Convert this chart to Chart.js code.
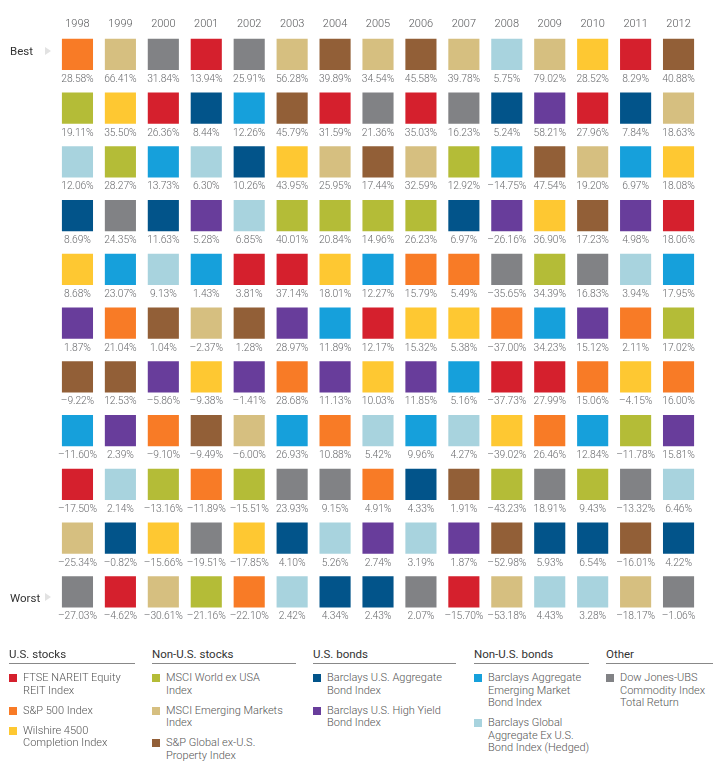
<!DOCTYPE html>
<html>
<head>
<meta charset="utf-8">
<script src="https://cdn.jsdelivr.net/npm/chart.js@4"></script>
<style>
  body { margin: 0; background: #fff; font-family: Roboto, "Liberation Sans", sans-serif; }
  #page { position: relative; width: 722px; height: 768px; overflow: hidden; }
  #wrap { position: absolute; left: 0; top: 0; width: 722px; height: 640px; }
  .side { position: absolute; left: 10px; font-size: 11.5px; color: #333; line-height: 14px; }
  .arrow { position: absolute; left: 45px; width: 0; height: 0;
           border-top: 4.5px solid transparent; border-bottom: 4.5px solid transparent; border-left: 6px solid #e2e2e2; }
  .group { position: absolute; top: 647px; }
  .group h4 { margin: 0; font-weight: 400; font-size: 11.5px; color: #333; line-height: 14px;
              padding-bottom: 2px; border-bottom: 1px solid #888; }
  .item { position: relative; padding-left: 14px; font-size: 11px; font-weight: 300; color: #555;
          line-height: 12.5px; margin-top: 7.5px; white-space: nowrap; }
  .group h4 + .item { margin-top: 8px; }
  .item i { position: absolute; left: 0; top: 2px; width: 8px; height: 8px; }
</style>
</head>
<body>
<div id="page">
  <div id="wrap"><canvas id="chart" width="722" height="640"></canvas></div>
  <div class="side" style="top:44px">Best</div>
  <div class="arrow" style="top:47px"></div>
  <div class="side" style="top:591px">Worst</div>
  <div class="arrow" style="top:593px"></div>
  <div id="legend"></div>
</div>
<script>
const years = ['1998', '1999', '2000', '2001', '2002', '2003', '2004', '2005',
               '2006', '2007', '2008', '2009', '2010', '2011', '2012'];

// asset classes (code, name, colour)
const assetCodes = ['R', 'S', 'W', 'M', 'E', 'P', 'A', 'H', 'B', 'G', 'C'];
const assetNames = ['FTSE NAREIT Equity REIT Index', 'S&P 500 Index', 'Wilshire 4500 Completion Index',
                    'MSCI World ex USA Index', 'MSCI Emerging Markets Index', 'S&P Global ex-U.S. Property Index',
                    'Barclays U.S. Aggregate Bond Index', 'Barclays U.S. High Yield Bond Index',
                    'Barclays Aggregate Emerging Market Bond Index',
                    'Barclays Global Aggregate Ex U.S. Bond Index (Hedged)',
                    'Dow Jones-UBS Commodity Index Total Return'];
const assetColors = ['#d5202d', '#f87b26', '#fec832', '#b4bc37', '#d6bf80', '#925f37',
                     '#02548a', '#683d9b', '#16a0db', '#a8d3de', '#818285'];

// ranking per year, best to worst
const order1998 = ['S', 'M', 'G', 'A', 'W', 'H', 'P', 'B', 'R', 'E', 'C'];
const order1999 = ['E', 'W', 'M', 'C', 'B', 'S', 'P', 'H', 'G', 'A', 'R'];
const order2000 = ['C', 'R', 'B', 'A', 'G', 'P', 'H', 'S', 'M', 'W', 'E'];
const order2001 = ['R', 'A', 'G', 'H', 'B', 'E', 'W', 'P', 'S', 'C', 'M'];
const order2002 = ['C', 'B', 'A', 'G', 'R', 'P', 'H', 'E', 'M', 'W', 'S'];
const order2003 = ['E', 'P', 'W', 'M', 'R', 'H', 'S', 'B', 'C', 'A', 'G'];
const order2004 = ['P', 'R', 'E', 'M', 'W', 'B', 'H', 'S', 'C', 'G', 'A'];
const order2005 = ['E', 'C', 'P', 'M', 'B', 'R', 'W', 'G', 'S', 'H', 'A'];
const order2006 = ['P', 'R', 'E', 'M', 'S', 'W', 'H', 'B', 'A', 'G', 'C'];
const order2007 = ['E', 'C', 'M', 'A', 'S', 'W', 'B', 'G', 'P', 'H', 'R'];
const order2008 = ['G', 'A', 'B', 'H', 'C', 'S', 'R', 'W', 'M', 'P', 'E'];
const order2009 = ['E', 'H', 'P', 'W', 'M', 'B', 'R', 'S', 'C', 'A', 'G'];
const order2010 = ['W', 'R', 'E', 'P', 'C', 'H', 'S', 'B', 'M', 'A', 'G'];
const order2011 = ['R', 'A', 'B', 'H', 'G', 'S', 'W', 'M', 'C', 'P', 'E'];
const order2012 = ['P', 'E', 'W', 'R', 'B', 'M', 'S', 'H', 'G', 'A', 'C'];

// returns (%) in the same order
const ret1998 = [28.58, 19.11, 12.06, 8.69, 8.68, 1.87, -9.22, -11.60, -17.50, -25.34, -27.03];
const ret1999 = [66.41, 35.50, 28.27, 24.35, 23.07, 21.04, 12.53, 2.39, 2.14, -0.82, -4.62];
const ret2000 = [31.84, 26.36, 13.73, 11.63, 9.13, 1.04, -5.86, -9.10, -13.16, -15.66, -30.61];
const ret2001 = [13.94, 8.44, 6.30, 5.28, 1.43, -2.37, -9.38, -9.49, -11.89, -19.51, -21.16];
const ret2002 = [25.91, 12.26, 10.26, 6.85, 3.81, 1.28, -1.41, -6.00, -15.51, -17.85, -22.10];
const ret2003 = [56.28, 45.79, 43.95, 40.01, 37.14, 28.97, 28.68, 26.93, 23.93, 4.10, 2.42];
const ret2004 = [39.89, 31.59, 25.95, 20.84, 18.01, 11.89, 11.13, 10.88, 9.15, 5.26, 4.34];
const ret2005 = [34.54, 21.36, 17.44, 14.96, 12.27, 12.17, 10.03, 5.42, 4.91, 2.74, 2.43];
const ret2006 = [45.58, 35.03, 32.59, 26.23, 15.79, 15.32, 11.85, 9.96, 4.33, 3.19, 2.07];
const ret2007 = [39.78, 16.23, 12.92, 6.97, 5.49, 5.38, 5.16, 4.27, 1.91, 1.87, -15.70];
const ret2008 = [5.75, 5.24, -14.75, -26.16, -35.65, -37.00, -37.73, -39.02, -43.23, -52.98, -53.18];
const ret2009 = [79.02, 58.21, 47.54, 36.90, 34.39, 34.23, 27.99, 26.46, 18.91, 5.93, 4.43];
const ret2010 = [28.52, 27.96, 19.20, 17.23, 16.83, 15.12, 15.06, 12.84, 9.43, 6.54, 3.28];
const ret2011 = [8.29, 7.84, 6.97, 4.98, 3.94, 2.11, -4.15, -11.78, -13.32, -16.01, -18.17];
const ret2012 = [40.88, 18.63, 18.08, 18.06, 17.95, 17.02, 16.00, 15.81, 6.46, 4.22, -1.06];

const orders = [order1998, order1999, order2000, order2001, order2002, order2003, order2004, order2005,
                order2006, order2007, order2008, order2009, order2010, order2011, order2012];
const returns = [ret1998, ret1999, ret2000, ret2001, ret2002, ret2003, ret2004, ret2005,
                 ret2006, ret2007, ret2008, ret2009, ret2010, ret2011, ret2012];

// legend groups
const groupTitles = ['U.S. stocks', 'Non-U.S. stocks', 'U.S. bonds', 'Non-U.S. bonds', 'Other'];
const groupMembers = [['R', 'S', 'W'], ['M', 'E', 'P'], ['A', 'H'], ['B', 'G'], ['C']];
const legendLines = {
  R: ['FTSE NAREIT Equity', 'REIT Index'],
  S: ['S&P 500 Index'],
  W: ['Wilshire 4500', 'Completion Index'],
  M: ['MSCI World ex USA', 'Index'],
  E: ['MSCI Emerging Markets', 'Index'],
  P: ['S&P Global ex-U.S.', 'Property Index'],
  A: ['Barclays U.S. Aggregate', 'Bond Index'],
  H: ['Barclays U.S. High Yield', 'Bond Index'],
  B: ['Barclays Aggregate', 'Emerging Market', 'Bond Index'],
  G: ['Barclays Global', 'Aggregate Ex U.S.', 'Bond Index (Hedged)'],
  C: ['Dow Jones-UBS', 'Commodity Index', 'Total Return']
};
const groupLeft = [9, 152, 313, 474, 606];
const groupWidth = [126, 144, 143, 115, 107];

// one dataset per asset class, points at (year index, rank)
const datasets = assetCodes.map((code, k) => {
  const pts = [];
  orders.forEach((ord, i) => {
    pts.push({ x: i, y: ord.indexOf(code) + 1 });
  });
  return {
    label: assetNames[k],
    data: pts,
    backgroundColor: assetColors[k],
    borderWidth: 0,
    pointStyle: 'rect',
    pointRadius: 22,
    pointHoverRadius: 22
  };
});

function fmt(v) {
  return (v < 0 ? '\u2013' : '') + Math.abs(v).toFixed(2) + '%';
}

const valueLabels = {
  id: 'valueLabels',
  afterDatasetsDraw(chart) {
    const ctx = chart.ctx;
    const x = chart.scales.x, y = chart.scales.y;
    ctx.save();
    ctx.font = '300 10.3px Roboto';
    ctx.letterSpacing = '-0.1px';
    ctx.fillStyle = '#6a6b6e';
    ctx.textAlign = 'center';
    ctx.textBaseline = 'middle';
    returns.forEach((col, i) => {
      col.forEach((v, r) => {
        ctx.fillText(fmt(v), x.getPixelForValue(i), y.getPixelForValue(r + 1) + 25);
      });
    });
    ctx.restore();
  }
};

new Chart(document.getElementById('chart'), {
  type: 'scatter',
  data: { datasets: datasets },
  options: {
    responsive: false,
    animation: false,
    events: [],
    layout: { padding: { top: 15, bottom: 16, left: 56, right: 0 } },
    plugins: {
      legend: { display: false },
      tooltip: { enabled: false }
    },
    scales: {
      x: {
        type: 'linear',
        position: 'top',
        min: -0.5,
        max: 14.5,
        grid: { display: false, drawTicks: false },
        border: { display: false },
        afterBuildTicks: axis => { axis.ticks = years.map((yr, i) => ({ value: i })); },
        ticks: {
          autoSkip: false,
          maxRotation: 0,
          padding: 3,
          color: '#58595b',
          font: { family: 'Roboto', size: 11, weight: '300' },
          callback: v => years[v]
        }
      },
      y: {
        type: 'linear',
        reverse: true,
        display: false,
        min: 0.6245,
        max: 11.4855
      }
    }
  },
  plugins: [valueLabels]
});

// legend below the grid
const legend = document.getElementById('legend');
groupTitles.forEach((title, g) => {
  const div = document.createElement('div');
  div.className = 'group';
  div.style.left = groupLeft[g] + 'px';
  div.style.width = groupWidth[g] + 'px';
  let html = '<h4>' + title + '</h4>';
  groupMembers[g].forEach(code => {
    const k = assetCodes.indexOf(code);
    html += '<div class="item"><i style="background:' + assetColors[k] + '"></i>' +
            legendLines[code].join('<br>').replace(/&(?!lt|gt|amp)/g, '&amp;') + '</div>';
  });
  div.innerHTML = html;
  legend.appendChild(div);
});
</script>
</body>
</html>
